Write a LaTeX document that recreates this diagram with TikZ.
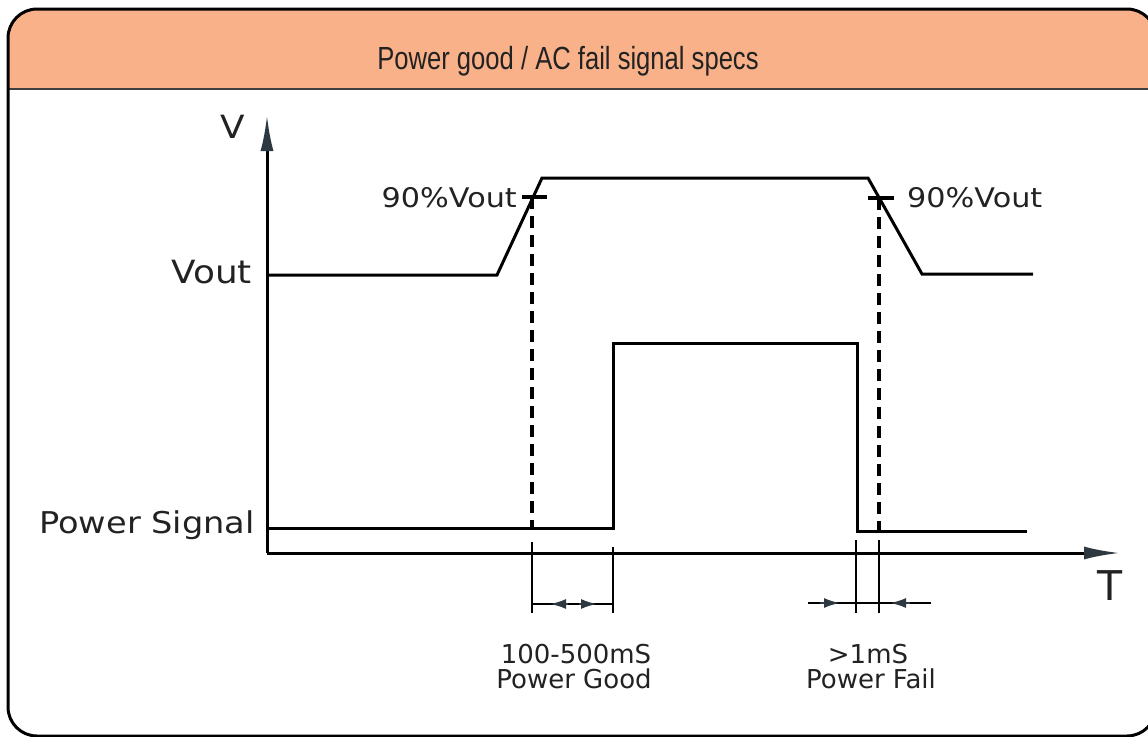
\documentclass[tikz,border=0pt]{standalone}
\usepackage{fontspec}
\usepackage{tikz}
\usetikzlibrary{arrows.meta}
\newfontfamily\titlefont[FakeStretch=0.8]{Liberation Sans}
\newfontfamily\plotfont[FakeStretch=1.12]{DejaVu Sans}
\newfontfamily\notefont{DejaVu Sans}
\definecolor{headfill}{HTML}{F9B189}
\definecolor{inkgray}{HTML}{222222}
\definecolor{tipgray}{HTML}{2E3840}
\tikzset{
	frame/.style={draw=black, line width=3pt, rounded corners=29pt},
	axis/.style={draw=black, line width=3pt,
		-{Latex[length=36pt,width=13pt,color=tipgray]}},
	trace/.style={draw=black, line width=3pt, line join=miter},
	marker/.style={draw=black, line width=4.5pt},
	guide/.style={draw=black, line width=3.5pt, dash pattern=on 12pt off 7pt},
	tick/.style={draw=black, line width=2pt},
	dimtip/.style={draw=tipgray, line width=2pt,
		-{Latex[length=16pt,width=10pt,color=tipgray]}},
	label/.style={inner sep=0pt, text=inkgray, font=\plotfont\fontsize{30}{30}\selectfont},
	small/.style={inner sep=0pt, text=inkgray, font=\plotfont\fontsize{27}{27}\selectfont},
	note/.style={inner sep=0pt, text=inkgray, align=center,
		font=\notefont\fontsize{26}{25}\selectfont},
}
\begin{document}
\begin{tikzpicture}[x=1pt, y=-1pt]
	\useasboundingbox (0,0) rectangle (1148,736);

	% card with header
	\fill[headfill, rounded corners=29pt] (8,89) -- (8,9) -- (1156,9) -- (1156,89);
	\draw[draw=black!75, line width=2pt] (8,89) -- (1156,89);
	\draw[frame] (8,9) rectangle (1156,736);
	\node[inner sep=0pt, anchor=base, text=inkgray,
		font=\titlefont\fontsize{32}{32}\selectfont] (title) at (568,69)
		{Power good / AC fail signal specs};

	% axes
	\coordinate (orig) at (267,553);
	\draw[axis] (orig) -- (267,115);
	\draw[axis] (orig) -- (1120,553);
	\node[label, anchor=base, font=\plotfont\fontsize{32}{32}\selectfont] (vlab) at (233,138) {V};
	\node[inner sep=0pt, anchor=base, text=inkgray,
		font=\notefont\fontsize{41}{41}\selectfont] (tlab) at (1110,600) {T};
	\node[label, anchor=base east, font=\plotfont\fontsize{32}{32}\selectfont] (voutlab) at (252,283) {Vout};
	\node[label, anchor=base east] (siglab) at (255,533) {Power Signal};

	% output voltage
	\draw[trace] (267,275) -- (497,275) -- (542,178) -- (868,178) -- (922,274) -- (1033,274);
	\draw[marker] (522,197) -- (547,197);
	\draw[marker] (868,198) -- (894,198);
	\node[small, anchor=base east] (ninetyL) at (517,207) {90\%Vout};
	\node[small, anchor=base west] (ninetyR) at (907,207) {90\%Vout};
	\draw[guide] (532,197) -- (532,528);
	\draw[guide] (879,198) -- (879,531);

	% power signal
	\draw[trace] (267,528) -- (613,528) -- (613,343) -- (857,343) -- (857,531) -- (1027,531);

	% timing marks
	\draw[tick] (532,542) -- (532,613);
	\draw[tick] (613,547) -- (613,613);
	\draw[tick] (856,540) -- (856,613);
	\draw[tick] (879,540) -- (879,613);

	\draw[tick] (532,604) -- (613,604);
	\draw[dimtip] (568,604) -- (550,604);
	\draw[dimtip] (579,604) -- (597,604);
	\draw[tick] (808,603) -- (931,603);
	\draw[dimtip] (820,603) -- (840,603);
	\draw[dimtip] (910,603) -- (890,603);

	\node[note, anchor=base] (goodtime) at (576,663) {100-500mS};
	\node[note, anchor=base] (goodlab) at (574,688) {Power Good};
	\node[note, anchor=base] (failtime) at (868,663) {>1mS};
	\node[note, anchor=base] (faillab) at (871,688) {Power Fail};
\end{tikzpicture}
\end{document}
